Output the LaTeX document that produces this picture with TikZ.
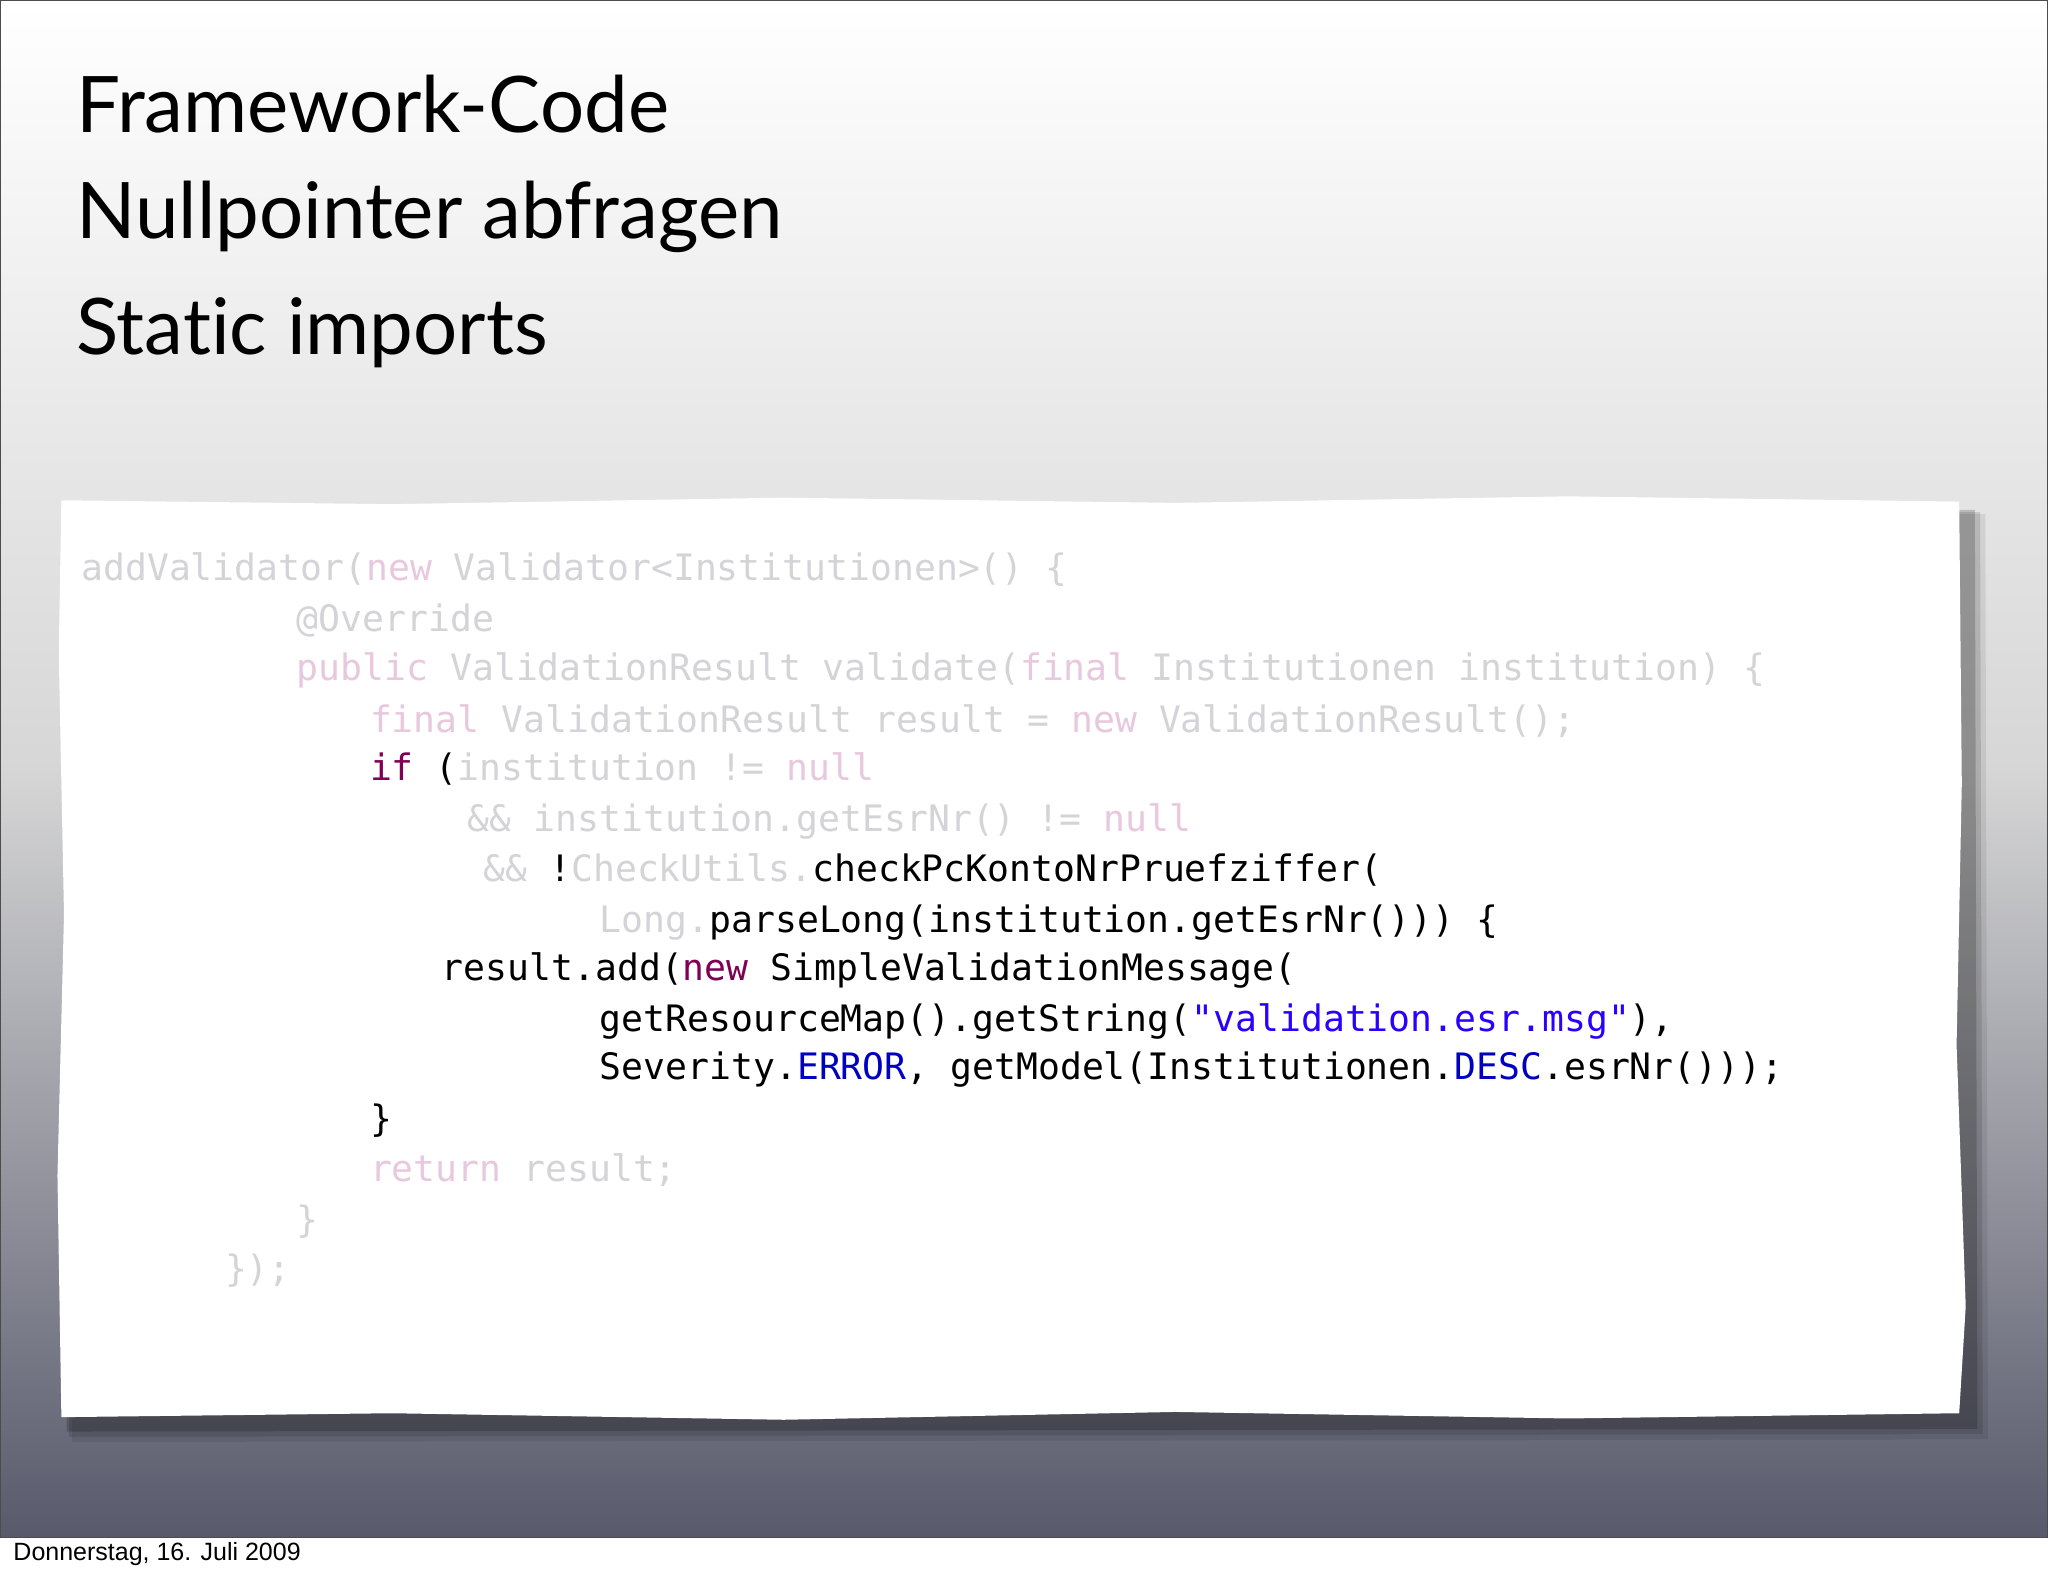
\documentclass[tikz,border=0pt]{standalone}
\usepackage{fontspec}
\setmainfont[Ligatures=NoCommon]{Lato}
\setmonofont{DejaVu Sans Mono}
\setsansfont{Liberation Sans}
\definecolor{fade}{RGB}{212,212,216}
\definecolor{fadekw}{RGB}{232,200,222}
\definecolor{kw}{RGB}{127,0,85}
\definecolor{str}{RGB}{42,0,255}
\definecolor{cst}{RGB}{0,0,192}
\definecolor{bgbot}{RGB}{88,90,108}
\tikzset{
  code/.style={anchor=west,inner sep=0pt,font=\fontsize{18.2}{20}\ttfamily},
  title/.style={anchor=west,inner sep=0pt,font=\fontsize{39}{46}\selectfont},
}
\newcommand{\fd}[1]{\textcolor{fade}{#1}}
\newcommand{\fk}[1]{\textcolor{fadekw}{#1}}
\begin{document}
\begin{tikzpicture}[x=0.653pt,y=-0.653pt]
\useasboundingbox (0,0) rectangle (1568,1206);
\fill[white] (0,0) rectangle (1568,1206);
\shade[top color=white,bottom color=bgbot,middle color=black!16] (0,0) rectangle (1568,1177);
\draw[black!70,line width=0.6pt] (0,0) rectangle (1568,1177);
\node[title] (t1) at (58,80) {Framework-Code};
\node[title] (t2) at (58,166) {Nullpointer abfragen};
\node[title] (t3) at (58,255) {Static imports};
% paper shadow
\foreach \o/\op in {14/0.08,10/0.12,6/0.18}{
\fill[black,opacity=\op] (48+\o*0.5,388+\o*0.4) -- (1506+\o,388+\o*0.4) -- (1508+\o,1088+\o) -- (48+\o*0.5,1090+\o) -- cycle;}
% paper
\fill[white] (47,383) -- (300,386) -- (600,381) -- (900,385) -- (1200,380) -- (1500,384) -- (1502,600) -- (1498,800) -- (1505,1000) -- (1500,1082) -- (1200,1086) -- (900,1081) -- (600,1087) -- (300,1082) -- (47,1085) -- (44,900) -- (49,700) -- (45,500) -- cycle;
\node[code] (l1) at (62,436) {\fd{addValidator(}\fk{new} \fd{Validator<Institutionen>() \{}};
\node[code] (l2) at (227,475) {\fd{@Override}};
\node[code] (l3) at (227,513) {\fk{public} \fd{ValidationResult validate(}\fk{final} \fd{Institutionen institution) \{}};
\node[code] (l4) at (283,552) {\fk{final} \fd{ValidationResult result =} \fk{new} \fd{ValidationResult();}};
\node[code] (l5) at (283,589) {\textcolor{kw}{if} (\fd{institution !=} \fk{null}};
\node[code] (l6) at (358,629) {\fd{\&\& institution.getEsrNr() !=} \fk{null}};
\node[code] (l7) at (370,666) {\fd{\&\&} !\fd{CheckUtils.}checkPcKontoNrPruefziffer(};
\node[code] (l8) at (459,706) {\fd{Long.}parseLong(institution.getEsrNr())) \{};
\node[code] (l9) at (338,743) {result.add(\textcolor{kw}{new} SimpleValidationMessage(};
\node[code] (l10) at (459,782) {getResourceMap().getString(\textcolor{str}{"validation.esr.msg"}),};
\node[code] (l11) at (459,819) {Severity.\textcolor{cst}{ERROR}, getModel(Institutionen.\textcolor{cst}{DESC}.esrNr()));};
\node[code] (l12) at (283,858) {\}};
\node[code] (l13) at (283,896) {\fk{return} \fd{result;}};
\node[code] (l14) at (227,935) {\fd{\}}};
\node[code] (l15) at (172,973) {\fd{\});}};
\node[anchor=west,inner sep=0pt,font=\sffamily\fontsize{12.5}{14}\selectfont] (ft) at (10,1190) {Donnerstag, 16. Juli 2009};
\end{tikzpicture}
\end{document}
